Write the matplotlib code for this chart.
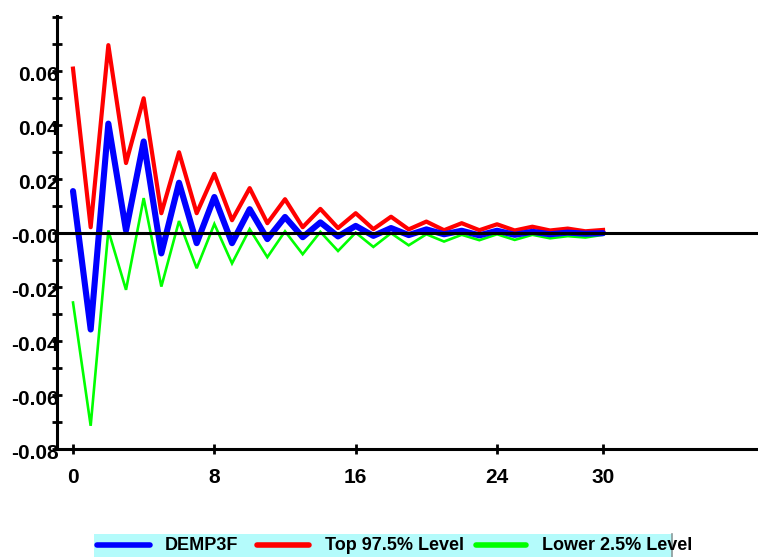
import matplotlib
matplotlib.use("Agg")
import matplotlib.pyplot as plt
from matplotlib.lines import Line2D
from matplotlib.patches import Rectangle
import matplotlib.transforms as mtransforms
import numpy as np

plt.rcParams['font.family'] = ['Liberation Sans', 'DejaVu Sans']
plt.rcParams['font.weight'] = 'bold'

# Data (impulse response and bands), lags 0..30
lags = np.arange(31)
demp3f = [0.0156, -0.0357, 0.0406, 0.0010, 0.0340, -0.0075, 0.0187, -0.0037,
          0.0134, -0.0037, 0.0089, -0.0022, 0.0060, -0.0015, 0.0040, -0.0012,
          0.0027, -0.0010, 0.0019, -0.0007, 0.0014, -0.0004, 0.0009, -0.0008,
          0.0009, -0.0006, 0.0005, -0.0004, 0.0002, -0.0002, 0.0000]
top975 = [0.0610, 0.0022, 0.0697, 0.0260, 0.0500, 0.0074, 0.0300, 0.0074,
          0.0220, 0.0048, 0.0167, 0.0037, 0.0126, 0.0022, 0.0090, 0.0019,
          0.0074, 0.0015, 0.0061, 0.0014, 0.0043, 0.0011, 0.0037, 0.0011,
          0.0033, 0.0010, 0.0024, 0.0010, 0.0017, 0.0007, 0.0012]
low025 = [-0.0257, -0.0714, 0.0010, -0.0210, 0.0130, -0.0198, 0.0045, -0.0130,
          0.0034, -0.0112, 0.0015, -0.0089, 0.0007, -0.0078, 0.0005, -0.0066,
          0.0002, -0.0051, 0.0000, -0.0045, -0.0004, -0.0031, -0.0006, -0.0026,
          -0.0004, -0.0025, -0.0006, -0.0019, -0.0011, -0.0016, -0.0006]

xticks = [0, 8, 16, 24, 30]
yticks = np.round(np.arange(-0.08, 0.0801, 0.01), 2)
ylabels = ['%.2f' % v if (round(v * 100) % 2 == 0 and v < 0.075) else '' for v in yticks]

W, H = 758, 557
fig = plt.figure(figsize=(W / 100, H / 100), dpi=100)
ax = fig.add_axes([57 / W, 1 - 449 / H, 1 - 57 / W, (449 - 16) / H])

ax.plot(lags, low025, color='#00ff00', lw=1.9, solid_joinstyle='miter', zorder=3)
ax.plot(lags, top975, color='#ff0000', lw=3.0, solid_joinstyle='round', zorder=4)
ax.plot(lags, demp3f, color='#0000ff', lw=4.4, solid_joinstyle='round',
        solid_capstyle='round', zorder=5)
ax.axhline(0, color='black', lw=2.2, zorder=6)

ax.set_xlim(-0.906, 38.77)
ax.set_ylim(-0.08, 0.0805)
ax.set_xticks(xticks)
ax.set_yticks(yticks)
ax.set_yticklabels(ylabels)

for s in ['top', 'right']:
    ax.spines[s].set_visible(False)
for s in ['left', 'bottom']:
    ax.spines[s].set_linewidth(2.2)
    ax.spines[s].set_zorder(7)

ax.tick_params(axis='both', direction='inout', length=7.2, width=2.0,
               labelsize=15)
ax.tick_params(axis='y', pad=-4.5)
ax.tick_params(axis='x', pad=10)
shift = mtransforms.ScaledTranslation(0, -2.5 / 100, fig.dpi_scale_trans)
for lab in ax.get_yticklabels():
    lab.set_transform(lab.get_transform() + shift)
for lab in ax.get_xticklabels() + ax.get_yticklabels():
    lab.set_fontweight('bold')
    lab.set_zorder(8)

# legend strip at the bottom
def fx(px):
    return px / W

def fy(py):
    return 1 - py / H

fig.add_artist(Rectangle((fx(94), fy(557)), fx(672) - fx(94), fy(534) - fy(557),
                         facecolor='#b4fbfb', edgecolor='none',
                         transform=fig.transFigure))
fig.add_artist(Line2D([fx(672), fx(672)], [fy(534), fy(557)], color='#8a9a9a',
                      lw=1.2, transform=fig.transFigure))
entries = [('DEMP3F', '#0000ff', 97, 150, 165),
           ('Top 97.5% Level', '#ff0000', 257, 309, 325),
           ('Lower 2.5% Level', '#00ff00', 476, 526, 542)]
for label, col, x0, x1, tx in entries:
    fig.add_artist(Line2D([fx(x0), fx(x1)], [fy(545), fy(545)], color=col,
                          lw=4.0, solid_capstyle='round', transform=fig.transFigure))
    fig.text(fx(tx), fy(546), label, fontsize=13, fontweight='bold',
             va='center', ha='left')

fig.savefig('out.png', dpi=100)
